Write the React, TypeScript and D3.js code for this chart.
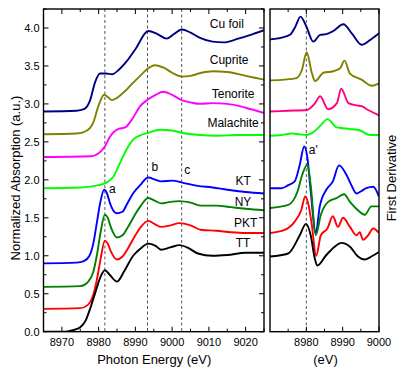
import React from 'react';
import * as d3 from 'd3';

const WIDTH = 400;
const HEIGHT = 374;
const TOP = 9;
const BOTTOM = 331.7;
const LEFT_PANEL = { x0: 43.5, x1: 264 };
const RIGHT_PANEL = { x0: 270, x1: 379 };
const FONT = '"Liberation Sans", Arial, sans-serif';

// ---- XANES spectra (left panel), values include the vertical offset ----
const cuFoilE = [8965, 8974, 8976, 8977.7, 8979, 8980.4, 8982, 8983.6, 8985.5, 8987.6, 8990, 8993.5, 8996, 8998.5, 9000.5, 9002.6, 9005, 9007.6, 9011, 9014, 9018, 9022, 9025];
const cuFoilY = [2.90, 2.91, 2.93, 3.05, 3.28, 3.40, 3.40, 3.39, 3.45, 3.56, 3.72, 3.96, 3.92, 3.86, 3.92, 3.98, 3.94, 3.87, 3.82, 3.81, 3.86, 3.92, 3.97];

const cupriteE = [8965, 8974, 8976.5, 8978.5, 8980, 8981.5, 8982.5, 8983.6, 8985, 8987, 8989.4, 8991.5, 8993, 8995.3, 8998, 9000, 9002.6, 9005, 9008, 9011, 9015, 9020, 9025];
const cupriteY = [2.60, 2.61, 2.64, 2.75, 2.98, 3.12, 3.09, 3.05, 3.08, 3.16, 3.28, 3.38, 3.45, 3.51, 3.47, 3.41, 3.36, 3.37, 3.41, 3.43, 3.42, 3.37, 3.32];

const tenoriteE = [8965, 8978, 8980, 8981.7, 8983, 8985.4, 8987.2, 8989, 8991.3, 8993.5, 8995.5, 8997.6, 9000, 9002.6, 9005, 9007.6, 9011, 9015, 9020, 9025];
const tenoriteY = [2.30, 2.31, 2.35, 2.44, 2.56, 2.67, 2.69, 2.79, 2.97, 3.06, 3.12, 3.16, 3.12, 3.05, 3.02, 3.00, 3.01, 3.00, 2.95, 2.88];

const malachiteE = [8965, 8975, 8980, 8982, 8984, 8985.8, 8987.6, 8989.4, 8991.5, 8993.5, 8996.7, 9000, 9002.6, 9007.6, 9012, 9018, 9025];
const malachiteY = [1.89, 1.90, 1.93, 1.96, 2.04, 2.22, 2.40, 2.53, 2.59, 2.62, 2.66, 2.65, 2.62, 2.59, 2.58, 2.59, 2.59];

const ktE = [8965, 8974, 8976, 8977.5, 8978.5, 8979.5, 8980.4, 8981.5, 8982.3, 8983.1, 8984.9, 8986.5, 8987.6, 8989.5, 8991.3, 8993.5, 8995.5, 8997, 9000, 9003, 9007, 9011, 9015, 9020, 9025];
const ktY = [0.90, 0.91, 0.93, 1.00, 1.15, 1.43, 1.69, 1.87, 1.82, 1.69, 1.56, 1.58, 1.67, 1.83, 1.93, 2.03, 2.00, 1.98, 1.99, 1.96, 1.92, 1.90, 1.87, 1.84, 1.82];

const nyE = [8965, 8975, 8977, 8978.5, 8979.5, 8980.5, 8981.7, 8982.5, 8983.3, 8985, 8986.5, 8988, 8990, 8991.5, 8993.5, 8995.5, 8997, 8999.5, 9002, 9005, 9008, 9012, 9016, 9020, 9025];
const nyY = [0.59, 0.60, 0.65, 0.78, 1.00, 1.30, 1.54, 1.50, 1.38, 1.24, 1.27, 1.38, 1.55, 1.66, 1.76, 1.72, 1.69, 1.71, 1.72, 1.70, 1.66, 1.66, 1.64, 1.62, 1.60];

const pktE = nyE;
const pktY = [0.30, 0.31, 0.35, 0.48, 0.68, 0.95, 1.20, 1.16, 1.06, 0.95, 0.99, 1.10, 1.27, 1.38, 1.46, 1.41, 1.38, 1.40, 1.43, 1.40, 1.34, 1.33, 1.31, 1.30, 1.30];

const ttE = [8965, 8971, 8973, 8975, 8976.5, 8977.6, 8979, 8980.5, 8981.7, 8983, 8985, 8987, 8989.4, 8991.5, 8993.5, 8995.5, 8997, 8999.5, 9002, 9004.5, 9007, 9011, 9015, 9020, 9025];
const ttY = [0.00, 0.00, 0.02, 0.06, 0.15, 0.29, 0.50, 0.72, 0.81, 0.75, 0.66, 0.80, 1.00, 1.10, 1.16, 1.13, 1.08, 1.11, 1.14, 1.10, 1.03, 1.00, 1.01, 1.04, 1.04];

// ---- first derivative (right panel), arbitrary units on the same vertical scale ----
const dCuFoilE = [8970, 8973, 8975.5, 8977, 8978.4, 8980, 8981.9, 8983.8, 8985.5, 8987.4, 8990.2, 8992.5, 8995.2, 8997.5, 9000];
const dCuFoilY = [3.85, 3.87, 3.91, 4.02, 4.15, 4.02, 3.82, 3.91, 3.92, 3.96, 4.05, 3.93, 3.78, 3.84, 3.93];

const dCupriteE = [8970, 8974, 8977.3, 8978.8, 8980.1, 8981.5, 8982.4, 8984.7, 8987.4, 8989.3, 8990.5, 8992, 8995.2, 8998, 9000];
const dCupriteY = [3.31, 3.32, 3.34, 3.45, 3.68, 3.41, 3.30, 3.41, 3.43, 3.47, 3.57, 3.40, 3.32, 3.24, 3.27];

const dTenoriteE = [8970, 8975, 8980.1, 8982.4, 8983.8, 8986, 8988.4, 8989.6, 8991.6, 8993.9, 8995.2, 8997, 9000];
const dTenoriteY = [2.90, 2.91, 2.92, 3.01, 3.10, 2.93, 3.01, 3.20, 3.01, 2.98, 2.97, 2.92, 2.85];

const dMalachiteE = [8970, 8973, 8976, 8978, 8980, 8982, 8984, 8985.8, 8988.4, 8990, 8992, 8994.8, 8997.5, 9000];
const dMalachiteY = [2.58, 2.59, 2.61, 2.60, 2.59, 2.63, 2.72, 2.80, 2.69, 2.68, 2.67, 2.65, 2.59, 2.59];

const dKtE = [8970, 8973.1, 8975, 8976.8, 8978.2, 8979.4, 8980.3, 8981.2, 8982.6, 8983.7, 8985.5, 8987.3, 8989, 8991, 8992.4, 8993.8, 8995.1, 8996.5, 8998.4, 9000];
const dKtY = [1.89, 1.89, 1.93, 1.98, 2.20, 2.44, 2.29, 1.85, 1.30, 1.65, 1.87, 1.98, 2.19, 2.07, 1.93, 1.82, 1.85, 1.89, 1.91, 1.78];

const dNyE = [8970, 8975, 8977.6, 8978.9, 8980.3, 8981.2, 8982.6, 8984, 8986, 8988.3, 8990.4, 8992, 8994.2, 8996.1, 8997.9, 9000];
const dNyY = [1.63, 1.67, 1.85, 2.07, 2.20, 1.93, 1.27, 1.54, 1.71, 1.76, 1.81, 1.71, 1.60, 1.54, 1.65, 1.65];

const dPktE = [8970, 8974, 8976.8, 8978.6, 8979.7, 8980.6, 8981.5, 8982.7, 8984, 8985.8, 8987.3, 8988.7, 8990.1, 8992, 8993.8, 8994.7, 8995.6, 8997, 8998.4, 9000];
const dPktY = [1.30, 1.34, 1.45, 1.60, 1.78, 1.67, 1.41, 1.00, 1.27, 1.36, 1.52, 1.38, 1.50, 1.38, 1.27, 1.31, 1.21, 1.27, 1.36, 1.30];

const dTtE = [8970, 8975, 8978.2, 8979.9, 8981.2, 8982.3, 8983, 8985.5, 8987.8, 8989.7, 8992, 8994.2, 8996, 8997.9, 9000];
const dTtY = [0.99, 1.03, 1.27, 1.42, 1.27, 0.97, 0.87, 1.01, 1.12, 1.17, 1.12, 0.99, 0.95, 0.99, 1.05];

// ---- axes ----
const leftXTicks = [8970, 8980, 8990, 9000, 9010, 9020];
const rightXTicks = [8980, 8990, 9000];
const yTicks = [0, 0.5, 1, 1.5, 2, 2.5, 3, 3.5, 4];
const markerLeft = [8981.7, 8993.3, 9002.6];
const markerRight = [8980];

const COLORS = {
  cuFoil: '#000080', cuprite: '#808000', tenorite: '#ff00ff', tenoriteD: '#ff0080',
  malachite: '#00ff00', kt: '#0000ff', ny: '#008000', pkt: '#ff0000', tt: '#000000',
};

const zip = (e: number[], v: number[]) => e.map((x, i) => [x, v[i]] as [number, number]);

const leftSeries = [
  { data: zip(cuFoilE, cuFoilY), color: COLORS.cuFoil },
  { data: zip(cupriteE, cupriteY), color: COLORS.cuprite },
  { data: zip(tenoriteE, tenoriteY), color: COLORS.tenorite },
  { data: zip(malachiteE, malachiteY), color: COLORS.malachite },
  { data: zip(ktE, ktY), color: COLORS.kt },
  { data: zip(nyE, nyY), color: COLORS.ny },
  { data: zip(pktE, pktY), color: COLORS.pkt },
  { data: zip(ttE, ttY), color: COLORS.tt },
];

const rightSeries = [
  { data: zip(dCuFoilE, dCuFoilY), color: COLORS.cuFoil },
  { data: zip(dCupriteE, dCupriteY), color: COLORS.cuprite },
  { data: zip(dTenoriteE, dTenoriteY), color: COLORS.tenoriteD },
  { data: zip(dMalachiteE, dMalachiteY), color: COLORS.malachite },
  { data: zip(dKtE, dKtY), color: COLORS.kt },
  { data: zip(dNyE, dNyY), color: COLORS.ny },
  { data: zip(dPktE, dPktY), color: COLORS.pkt },
  { data: zip(dTtE, dTtY), color: COLORS.tt },
];

// labels placed in data coordinates
const sampleLabels: [string, number, number][] = [
  ['Cu foil', 9014.9, 4.0],
  ['Cuprite', 9015.5, 3.53],
  ['Tenorite', 9016.6, 3.08],
  ['Malachite', 9016.6, 2.70],
  ['KT', 9019.3, 1.93],
  ['NY', 9019.3, 1.655],
  ['PKT', 9020, 1.38],
  ['TT', 9019.3, 1.11],
];
const featureLabels: [string, number, number][] = [
  ['a', 8983.7, 1.83],
  ['b', 8995.3, 2.12],
  ['c', 9004.1, 2.08],
];

export default function App() {
  const y = d3.scaleLinear().domain([0, 4.25]).range([BOTTOM, TOP]);
  const xL = d3.scaleLinear().domain([8965, 9025]).range([LEFT_PANEL.x0, LEFT_PANEL.x1]);
  const xR = d3.scaleLinear().domain([8970, 9000]).range([RIGHT_PANEL.x0, RIGHT_PANEL.x1]);

  const lineL = d3.line<[number, number]>().x((d) => xL(d[0])).y((d) => y(d[1])).curve(d3.curveMonotoneX);
  const lineR = d3.line<[number, number]>().x((d) => xR(d[0])).y((d) => y(d[1])).curve(d3.curveMonotoneX);

  const yMinor = d3.range(0, 4.26, 0.25).filter((v) => Math.abs(v * 2 - Math.round(v * 2)) > 1e-6);
  const xLMinor = d3.range(8975, 9026, 10);
  const xRMinor = d3.range(8975, 9000, 10);

  const tick = (x1: number, y1: number, x2: number, y2: number, k: string) => (
    <line key={k} x1={x1} y1={y1} x2={x2} y2={y2} stroke="#000" strokeWidth={1} />
  );

  return (
    <svg width={WIDTH} height={HEIGHT} style={{ position: 'absolute', left: 0, top: 0, background: '#fff' }} fontFamily={FONT}>
      <rect width={WIDTH} height={HEIGHT} fill="#fff" />

      {/* dashed markers */}
      {markerLeft.map((e) => (
        <line key={'ml' + e} x1={xL(e)} x2={xL(e)} y1={TOP} y2={BOTTOM} stroke="#555" strokeWidth={1} strokeDasharray="3,2.5" />
      ))}
      {markerRight.map((e) => (
        <line key={'mr' + e} x1={xR(e)} x2={xR(e)} y1={TOP} y2={BOTTOM} stroke="#555" strokeWidth={1} strokeDasharray="3,2.5" />
      ))}

      {/* spectra */}
      <g clipPath="url(#clipL)">
        {leftSeries.map((s, i) => (
          <path key={'l' + i} d={lineL(s.data) || ''} fill="none" stroke={s.color} strokeWidth={1.9} strokeLinejoin="round" />
        ))}
      </g>
      <g clipPath="url(#clipR)">
        {rightSeries.map((s, i) => (
          <path key={'r' + i} d={lineR(s.data) || ''} fill="none" stroke={s.color} strokeWidth={1.9} strokeLinejoin="round" />
        ))}
      </g>
      <defs>
        <clipPath id="clipL"><rect x={LEFT_PANEL.x0} y={TOP} width={LEFT_PANEL.x1 - LEFT_PANEL.x0} height={BOTTOM - TOP} /></clipPath>
        <clipPath id="clipR"><rect x={RIGHT_PANEL.x0} y={TOP} width={RIGHT_PANEL.x1 - RIGHT_PANEL.x0} height={BOTTOM - TOP} /></clipPath>
      </defs>

      {/* frames */}
      <rect x={LEFT_PANEL.x0} y={TOP} width={LEFT_PANEL.x1 - LEFT_PANEL.x0} height={BOTTOM - TOP} fill="none" stroke="#000" strokeWidth={1.4} />
      <rect x={RIGHT_PANEL.x0} y={TOP} width={RIGHT_PANEL.x1 - RIGHT_PANEL.x0} height={BOTTOM - TOP} fill="none" stroke="#000" strokeWidth={1.4} />

      {/* left panel ticks */}
      {leftXTicks.map((e) => [
        tick(xL(e), BOTTOM, xL(e), BOTTOM - 5, 'lxb' + e),
        tick(xL(e), TOP, xL(e), TOP + 5, 'lxt' + e),
      ])}
      {xLMinor.map((e) => [
        tick(xL(e), BOTTOM, xL(e), BOTTOM - 3, 'lxbm' + e),
        tick(xL(e), TOP, xL(e), TOP + 3, 'lxtm' + e),
      ])}
      {yTicks.map((v) => [
        tick(LEFT_PANEL.x0, y(v), LEFT_PANEL.x0 + 5, y(v), 'ly' + v),
        tick(LEFT_PANEL.x1, y(v), LEFT_PANEL.x1 - 5, y(v), 'lyr' + v),
      ])}
      {yMinor.map((v) => [
        tick(LEFT_PANEL.x0, y(v), LEFT_PANEL.x0 + 3, y(v), 'lym' + v),
        tick(LEFT_PANEL.x1, y(v), LEFT_PANEL.x1 - 3, y(v), 'lyrm' + v),
      ])}

      {/* right panel ticks */}
      {rightXTicks.map((e) => [
        tick(xR(e), BOTTOM, xR(e), BOTTOM - 5, 'rxb' + e),
        tick(xR(e), TOP, xR(e), TOP + 5, 'rxt' + e),
      ])}
      {xRMinor.map((e) => [
        tick(xR(e), BOTTOM, xR(e), BOTTOM - 3, 'rxbm' + e),
        tick(xR(e), TOP, xR(e), TOP + 3, 'rxtm' + e),
      ])}

      {/* tick labels */}
      <g fontSize={11} fill="#000">
        {leftXTicks.map((e) => (
          <text key={'lxl' + e} x={xL(e)} y={BOTTOM + 14.5} textAnchor="middle">{e}</text>
        ))}
        {rightXTicks.map((e) => (
          <text key={'rxl' + e} x={xR(e)} y={BOTTOM + 14.5} textAnchor="middle">{e}</text>
        ))}
        {yTicks.map((v) => (
          <text key={'yl' + v} x={LEFT_PANEL.x0 - 4} y={y(v) + 4} textAnchor="end">{v.toFixed(1)}</text>
        ))}
      </g>

      {/* axis titles */}
      <text x={(LEFT_PANEL.x0 + LEFT_PANEL.x1) / 2 + 0.5} y={364} textAnchor="middle" fontSize={13}>Photon Energy (eV)</text>
      <text x={(RIGHT_PANEL.x0 + RIGHT_PANEL.x1) / 2 + 1} y={364} textAnchor="middle" fontSize={13}>(eV)</text>
      <text transform={`translate(19.5, ${178}) rotate(-90)`} textAnchor="middle" fontSize={13}>Normalized Absorption (a.u.)</text>
      <text transform={`translate(396, ${178}) rotate(-90)`} textAnchor="middle" fontSize={13}>First Derivative</text>

      {/* sample labels */}
      <g fontSize={12} fill="#000">
        {sampleLabels.map(([t, e, v]) => (
          <text key={t} x={xL(e)} y={y(v)} textAnchor="middle">{t}</text>
        ))}
        {featureLabels.map(([t, e, v]) => (
          <text key={t} x={xL(e)} y={y(v)} textAnchor="middle">{t}</text>
        ))}
        <text x={xR(8981.9)} y={y(2.34)} textAnchor="middle">a'</text>
      </g>
    </svg>
  );
}
